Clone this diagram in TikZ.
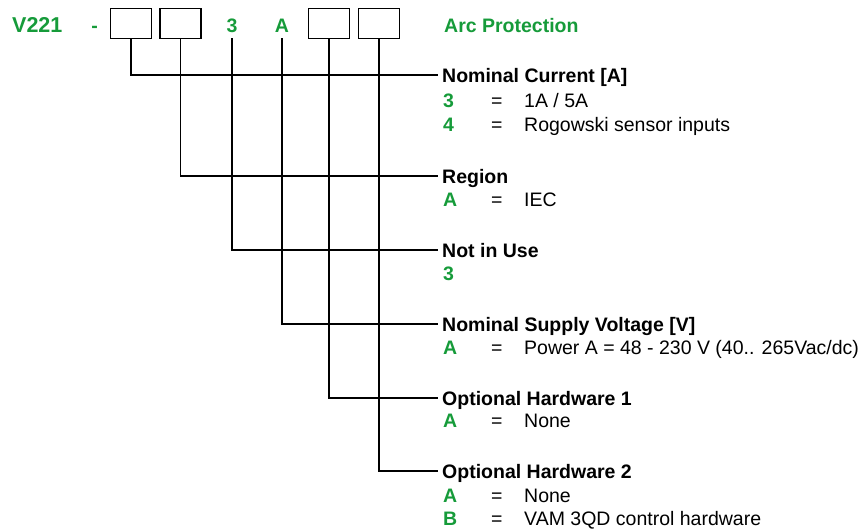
\documentclass[tikz,border=0pt]{standalone}
\usepackage{fontspec}
\setmainfont{Liberation Sans}
\definecolor{codegreen}{RGB}{22,155,58}
\begin{document}
\begin{tikzpicture}[x=1pt,y=-1pt,
  every node/.style={font=\fontsize{19.5}{24}\selectfont},
  codebox/.style={draw=black,line width=1.8pt,minimum width=41pt,minimum height=30pt,inner sep=0pt},
  codechar/.style={text=codegreen,font=\fontsize{19.5}{24}\selectfont\bfseries,anchor=base,inner sep=0pt,text depth=0pt},
  heading/.style={font=\fontsize{19.5}{24}\selectfont\bfseries,anchor=west,inner xsep=4pt,inner ysep=0pt,text height=14pt,text depth=0pt},
  optkey/.style={text=codegreen,font=\fontsize{19.5}{24}\selectfont\bfseries,anchor=base west,inner sep=0pt},
  opteq/.style={anchor=base west,inner sep=0pt},
  optval/.style={anchor=base west,inner sep=0pt},
  wire/.style={line width=1.8pt}]
\useasboundingbox (0,0) rectangle (861,531);
% top row
\node[codechar,anchor=base west,font=\fontsize{21.5}{24}\selectfont\bfseries] (v) at (12,32) {V221};
\node[codechar] (dash) at (94.5,32) {-};
\node[codebox] (b1) at (131,23.5) {};
\node[codebox] (b2) at (180.5,23.5) {};
\node[codechar,inner ysep=6pt] (c3) at (232,32) {3};
\node[codechar,inner ysep=6pt] (cA) at (282,32) {A};
\node[codebox] (b3) at (329,23.5) {};
\node[codebox] (b4) at (379,23.5) {};
\node[codechar,anchor=base west] (arc) at (444,32) {Arc Protection};
% headings
\node[heading] (h1) at (438,75) {Nominal Current [A]};
\node[heading] (h2) at (438,176) {Region};
\node[heading] (h3) at (438,250) {Not in Use};
\node[heading] (h4) at (438,324) {Nominal Supply Voltage [V]};
\node[heading] (h5) at (438,398) {Optional Hardware 1};
\node[heading] (h6) at (438,471) {Optional Hardware 2};
% connectors
\draw[wire] (b1.south) |- (h1.west);
\draw[wire] (b2.south) |- (h2.west);
\draw[wire] (c3.south) |- (h3.west);
\draw[wire] (cA.south) |- (h4.west);
\draw[wire] (b3.south) |- (h5.west);
\draw[wire] (b4.south) |- (h6.west);
% items
\node[optkey] (k11) at (443,107) {3};
\node[opteq] (e11) at (491,107) {=};
\node[optval] (v11) at (524,107) {1A / 5A};
\node[optkey] (k12) at (443,131) {4};
\node[opteq] (e12) at (491,131) {=};
\node[optval] (v12) at (524,131) {Rogowski sensor inputs};
\node[optkey] (k21) at (443,206) {A};
\node[opteq] (e21) at (491,206) {=};
\node[optval] (v21) at (524,206) {IEC};
\node[optkey] (k31) at (443,280) {3};
\node[optkey] (k41) at (443,354) {A};
\node[opteq] (e41) at (491,354) {=};
\node[optval] (v41) at (524,354) {Power A = 48 - 230 V (40.. 265Vac/dc)};
\node[optkey] (k51) at (443,427) {A};
\node[opteq] (e51) at (491,427) {=};
\node[optval] (v51) at (524,427) {None};
\node[optkey] (k61) at (443,502) {A};
\node[opteq] (e61) at (491,502) {=};
\node[optval] (v61) at (524,502) {None};
\node[optkey] (k62) at (443,525) {B};
\node[opteq] (e62) at (491,525) {=};
\node[optval] (v62) at (524,525) {VAM 3QD control hardware};
\end{tikzpicture}
\end{document}
